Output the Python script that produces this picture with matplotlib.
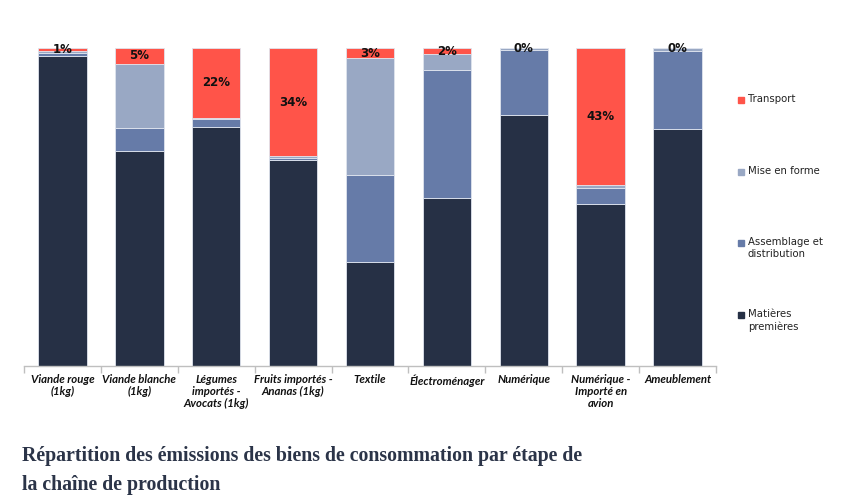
import matplotlib
matplotlib.use("Agg")
import matplotlib.pyplot as plt
import numpy as np

categories = ["Viande rouge\n(1kg)", "Viande blanche\n(1kg)", "Légumes\nimportés -\nAvocats (1kg)",
              "Fruits importés -\nAnanas (1kg)", "Textile", "Électroménager", "Numérique",
              "Numérique -\nImporté en\navion", "Ameublement"]
matieres = [97.5, 67.5, 75.2, 64.8, 32.7, 52.7, 79.0, 51.1, 74.5]
assemblage = [1.0, 7.5, 2.5, 0.7, 27.4, 40.3, 20.4, 5.0, 24.5]
mise_en_forme = [0.5, 20.0, 0.3, 0.5, 36.8, 5.0, 0.6, 0.9, 1.0]
transport = [1, 5, 22, 34, 3, 2, 0, 43, 0]

series = [("Matières\npremières", matieres, "#263045"),
          ("Assemblage et\ndistribution", assemblage, "#667ba8"),
          ("Mise en forme", mise_en_forme, "#99a8c4"),
          ("Transport", transport, "#ff5449")]

fig = plt.figure(figsize=(8.43, 5.04), dpi=100)
ax = fig.add_axes([24/843, 1-366/504, (716-24)/843, (366-48)/504])

x = np.arange(len(categories))
bottom = np.zeros(len(categories))
for name, vals, col in series:
    ax.bar(x, vals, bottom=bottom, width=0.63, color=col, edgecolor="#dfe4ee", linewidth=0.6)
    bottom = bottom + np.array(vals)

# labels on transport
tb = np.array(matieres) + np.array(assemblage) + np.array(mise_en_forme)
for i, v in enumerate(transport):
    yc = tb[i] + v / 2
    ax.text(x[i], yc, f"{v:.0f}%", ha="center", va="center", fontsize=8.5,
            fontweight="bold", color="#111111")

ax.set_xlim(-0.5, len(categories) - 0.5)
ax.set_ylim(0, 100)
for s in ["top", "right", "left"]:
    ax.spines[s].set_visible(False)
ax.spines["bottom"].set_color("#bfbfbf")
ax.spines["bottom"].set_linewidth(1)
ax.set_yticks([])
ax.set_xticks(x)
ax.set_xticklabels(categories, fontsize=8.2, family="Lato", fontweight="bold", style="italic",
                   color="#111111", linespacing=1.1)
ax.tick_params(axis="x", which="major", length=0, pad=6)
ax.set_xticks(np.arange(-0.5, len(categories)), minor=True)
ax.tick_params(axis="x", which="minor", length=5, color="#bfbfbf", width=1)

# legend (manual, Excel-like)
leg_y = [100, 172, 243, 315]
for (name, vals, col), yy in zip(series[::-1], leg_y):
    fig.patches.append(matplotlib.patches.Rectangle((738/843, 1-(yy+3)/504), 6/843, 6/504,
                                                    color=col, transform=fig.transFigure))
    fig.text(748/843, 1-(yy-6)/504, name, fontsize=7.3, color="#222222", va="top", ha="left",
             linespacing=1.25)

fig.text(22/843, 1-456/504, "Répartition des émissions des biens de consommation par étape de",
         fontsize=14.3, family="Liberation Serif", fontweight="bold", color="#2b3448", va="center")
fig.text(22/843, 1-485/504, "la chaîne de production",
         fontsize=14.3, family="Liberation Serif", fontweight="bold", color="#2b3448", va="center")

fig.savefig("out.png", dpi=100)
